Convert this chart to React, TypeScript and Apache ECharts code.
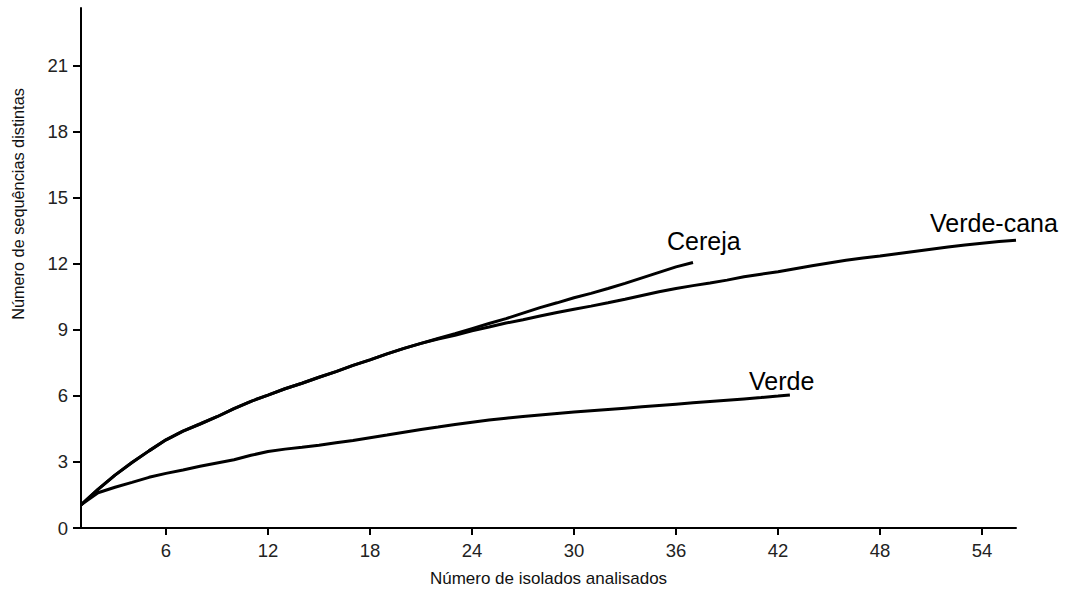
import React, { useEffect, useRef } from "react";
import * as echarts from "echarts";

// Number of isolates analysed (x) for each curve
const cerejaX = [1, 2, 3, 4, 5, 6, 7, 8, 9, 10, 11, 12, 13, 14, 15, 16, 17, 18, 19, 20, 21, 22, 23, 24, 25, 26, 27, 28, 29, 30, 31, 32, 33, 34, 35, 36, 37];
const cerejaY = [1.05, 1.75, 2.4, 2.97, 3.5, 4.0, 4.4, 4.72, 5.05, 5.42, 5.75, 6.03, 6.32, 6.57, 6.84, 7.1, 7.38, 7.63, 7.9, 8.15, 8.38, 8.6, 8.82, 9.05, 9.28, 9.5, 9.75, 10.0, 10.22, 10.45, 10.65, 10.87, 11.1, 11.35, 11.6, 11.85, 12.05];

const verdeCanaX = [1, 2, 3, 4, 5, 6, 7, 8, 9, 10, 11, 12, 13, 14, 15, 16, 17, 18, 19, 20, 21, 22, 23, 24, 25, 26, 27, 28, 29, 30, 31, 32, 33, 34, 35, 36, 37, 38, 39, 40, 41, 42, 43, 44, 45, 46, 47, 48, 49, 50, 51, 52, 53, 54, 55, 56];
const verdeCanaY = [1.05, 1.75, 2.4, 2.97, 3.5, 4.0, 4.4, 4.72, 5.05, 5.42, 5.75, 6.03, 6.32, 6.57, 6.84, 7.1, 7.38, 7.63, 7.9, 8.15, 8.38, 8.58, 8.75, 8.95, 9.12, 9.3, 9.45, 9.62, 9.78, 9.93, 10.07, 10.22, 10.38, 10.55, 10.72, 10.87, 11.0, 11.12, 11.25, 11.4, 11.52, 11.63, 11.77, 11.9, 12.03, 12.15, 12.25, 12.34, 12.45, 12.55, 12.65, 12.75, 12.84, 12.92, 13.0, 13.06];

const verdeX = [1, 2, 3, 4, 5, 6, 7, 8, 9, 10, 11, 12, 13, 14, 15, 16, 17, 18, 19, 20, 21, 22, 23, 24, 25, 26, 27, 28, 29, 30, 31, 32, 33, 34, 35, 36, 37, 38, 39, 40, 41, 42, 42.7];
const verdeY = [1.05, 1.6, 1.85, 2.07, 2.3, 2.48, 2.63, 2.8, 2.95, 3.1, 3.3, 3.47, 3.58, 3.66, 3.76, 3.87, 3.97, 4.1, 4.22, 4.35, 4.47, 4.58, 4.7, 4.8, 4.9, 4.98, 5.06, 5.13, 5.2, 5.26, 5.32, 5.38, 5.44, 5.5, 5.56, 5.62, 5.68, 5.74, 5.8, 5.86, 5.92, 5.99, 6.04];

const xTicks = [6, 12, 18, 24, 30, 36, 42, 48, 54];
const yTicks = [0, 3, 6, 9, 12, 15, 18, 21];

const seriesNames = ["Cereja", "Verde-cana", "Verde"];
const xTitle = "Número de isolados analisados";
const yTitle = "Número de sequências distintas";

const FONT = 'Arial, "Liberation Sans", sans-serif';

function pairs(xs: number[], ys: number[]) {
  return xs.map((x, i) => [x, ys[i]]);
}

export default function App() {
  const ref = useRef<HTMLDivElement>(null);

  useEffect(() => {
    if (!ref.current) return;
    const chart = echarts.init(ref.current, undefined, { renderer: "svg" });
    const lineStyle = { color: "#000", width: 3 };
    const label = (text: string, x: number, y: number) => ({
      type: "text",
      x,
      y,
      style: {
        text,
        fill: "#000",
        font: `25px ${FONT}`,
        align: "left",
        verticalAlign: "middle",
      },
    });
    chart.setOption({
      animation: false,
      backgroundColor: "#fff",
      grid: { left: 81, right: 61, top: 8, bottom: 63, containLabel: false },
      xAxis: {
        type: "value",
        min: 1,
        max: 56,
        name: xTitle,
        nameLocation: "middle",
        nameGap: 42,
        nameTextStyle: { fontFamily: FONT, fontSize: 17, color: "#111" },
        axisLine: { show: true, onZero: false, lineStyle: { color: "#000", width: 2 } },
        axisTick: { show: true, length: 7, customValues: xTicks, lineStyle: { color: "#000", width: 2 } },
        axisLabel: { customValues: xTicks, margin: 13, fontFamily: FONT, fontSize: 18.5, color: "#222" },
        splitLine: { show: false },
      },
      yAxis: {
        type: "value",
        min: 0,
        max: 23.6,
        axisLine: { show: true, onZero: false, lineStyle: { color: "#000", width: 2 } },
        axisTick: { show: true, length: 8, customValues: yTicks, lineStyle: { color: "#000", width: 2 } },
        axisLabel: { customValues: yTicks, margin: 13, fontFamily: FONT, fontSize: 18.5, color: "#222" },
        splitLine: { show: false },
      },
      graphic: [
        {
          type: "text",
          x: 18,
          y: 204,
          rotation: Math.PI / 2,
          style: {
            text: yTitle,
            fill: "#111",
            font: `16.3px ${FONT}`,
            align: "center",
            verticalAlign: "middle",
          },
        },
        label(seriesNames[0], 667, 241),
        label(seriesNames[1], 930, 223),
        label(seriesNames[2], 749, 381),
      ],
      series: [
        { name: seriesNames[0], type: "line", data: pairs(cerejaX, cerejaY), showSymbol: false, lineStyle, z: 3 },
        { name: seriesNames[1], type: "line", data: pairs(verdeCanaX, verdeCanaY), showSymbol: false, lineStyle, z: 2 },
        { name: seriesNames[2], type: "line", data: pairs(verdeX, verdeY), showSymbol: false, lineStyle, z: 2 },
      ],
    });
    return () => chart.dispose();
  }, []);

  return (
    <div
      ref={ref}
      style={{ position: "fixed", left: 0, top: 0, width: 1077, height: 592 }}
    />
  );
}
